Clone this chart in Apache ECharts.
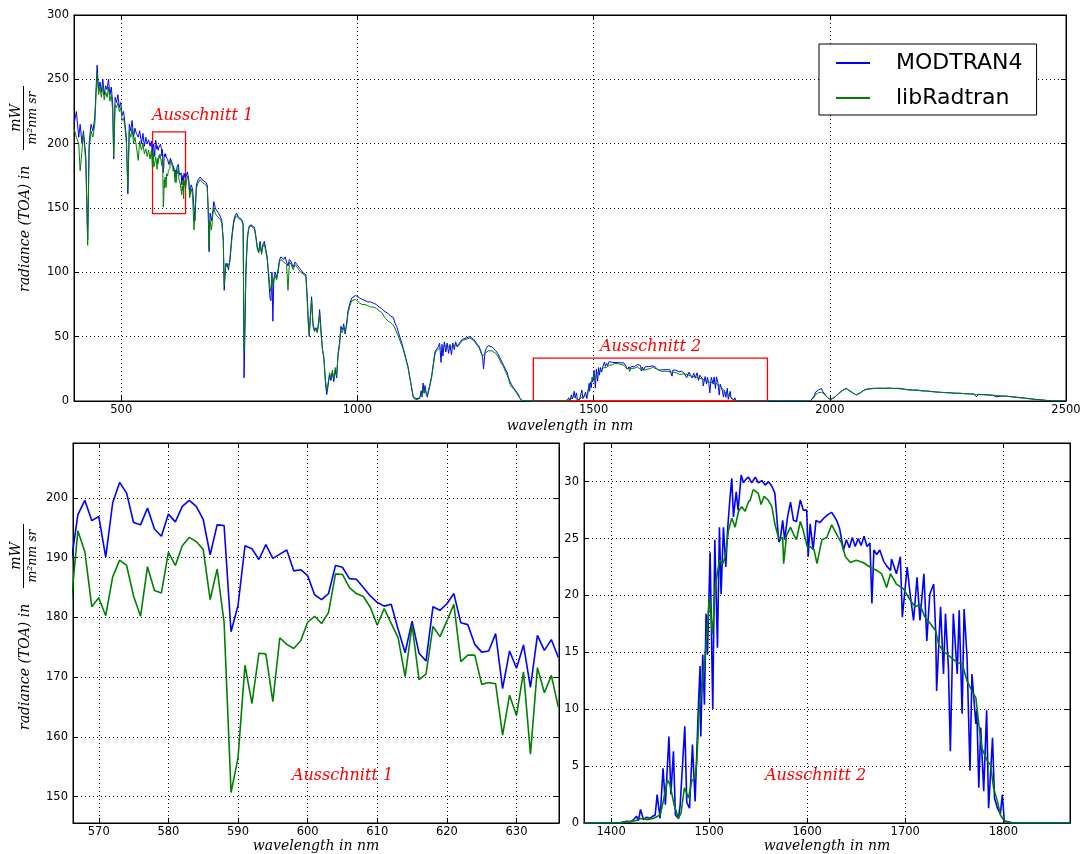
<!DOCTYPE html>
<html><head><meta charset="utf-8">
<script src="https://cdn.jsdelivr.net/npm/echarts@6/dist/echarts.min.js"></script>
<style>html,body{margin:0;padding:0;background:#fff}#c{width:1090px;height:854px}</style>
</head><body><div id="c"></div><script>
// ---------- full spectrum (outside the two cut-outs) ----------
const topWl = [
400,405,410,413,417,420,425,429,432,436,
440,444,447,449,452,455,458,461,464,467,
470,473,476,479,482,484,487,490,493,496,
499,502,505,508,511,514,517,520,523,526,
529,532,536,539,543,546,549,552,555,558,
561,564,640,643,645,648,651,654,656,659,
663,667,671,675,679,682,684,686,688,691,
694,696,699,702,706,710,713,716,718,721,
724,727,730,734,738,741,744,748,752,755,
758,760,762,764,767,770,774,778,782,785,
788,791,794,797,800,803,806,809,812,815,
817,819,821,823,826,829,832,835,838,841,
844,847,850,853,856,860,864,868,872,876,
880,884,888,891,894,896,898,900,903,906,
909,912,915,918,920,923,926,929,932,935,
938,941,944,947,950,953,956,959,962,965,
968,971,974,977,980,984,988,992,996,1000,
1005,1010,1016,1022,1028,1034,1040,1046,1051,1056,
1060,1065,1070,1076,1080,1083,1087,1093,1097,1100,
1104,1107,1110,1113,1116,1118,1121,1124,1128,1132,
1135,1137,1139,1141,1143,1146,1148,1150,1153,1157,
1161,1164,1167,1171,1174,1177,1179,1181,1184,1187,
1190,1193,1196,1199,1202,1205,1208,1211,1214,1218,
1222,1226,1230,1234,1238,1242,1246,1250,1254,1258,
1262,1265,1267,1270,1273,1277,1281,1285,1289,1293,
1297,1301,1305,1309,1313,1317,1320,1323,1326,1329,
1332,1335,1338,1341,1344,1347,1350,1360,1368,1870,
1900,1940,1955,1960,1964,1967,1970,1973,1976,1979,
1982,1985,1988,1991,1994,1997,2000,2003,2007,2010,
2014,2018,2022,2026,2030,2035,2040,2045,2050,2056,
2060,2065,2070,2077,2085,2095,2105,2115,2125,2135,
2145,2155,2165,2175,2185,2195,2205,2215,2225,2235,
2245,2255,2265,2275,2285,2295,2305,2310,2315,2325,
2335,2345,2352,2355,2365,2375,2385,2395,2405,2415,
2425,2435,2445,2455,2465,2475,2500];
const topModtran = [
215,225,205,215,200,210,190,125,200,215,
210,220,245,261,242,248,240,250,238,245,
242,250,238,244,230,188,236,232,238,228,
232,222,225,215,205,161,215,210,218,205,
212,208,205,210,200,208,198,205,200,203,
198,202,178,172,160,168,165,150,140,168,
172,174,172,171,170,168,150,116,146,140,
148,155,150,148,146,143,140,125,86,105,
107,102,110,128,140,144,146,143,144,141,
138,18,55,100,125,135,137,136,135,128,
120,116,124,115,122,124,118,112,96,80,
78,100,62,95,100,96,102,110,112,113,
110,112,108,105,110,108,104,108,106,104,
102,100,100,98,80,62,50,65,81,60,
55,57,54,62,71,55,40,33,15,5,
12,20,16,22,15,24,18,37,45,58,
55,60,52,60,70,76,80,81,82,81,
80,79,78,77,77,76,75,73,72,70,
69,68,66,65,60,58,53,46,41,37,
31,27,20,14,7,3,1.5,2,1,2,
8,4,14,6,12,5,3,8,12,19,
30,38,40,42,45,30,44,35,46,38,
45,37,44,36,45,40,46,42,44,46,
48,48,49,50,50,49,48,46,44,42,
38,34,25,38,41,43,44,42,41,39,
37,34,31,28,25,22,18,15,13,11,
12,8,9,5,2,0.5,0,0,0,0,
0,0,0,0.5,2,4,7,6,8.5,7,
9.8,7.5,6,4.5,3,2,1.5,1.3,2,3,
4,5.5,7,8,8.8,9.9,8.5,7.3,6,4.7,
5.5,6.5,8,9.1,9.6,9.9,10,9.9,10.1,9.8,
9.9,9.4,8.8,8.5,8.6,7.9,7.8,7.4,7.0,6.8,
6.5,6.4,6.0,6.1,5.7,5.6,5.4,3.4,5.2,5.0,
4.8,4.5,3.2,4.4,3.9,3.8,3.3,3.0,2.6,2.2,
1.8,1.3,1.0,0.6,0.2,0,0];
const topLibradtran = [
212,205,200,179,195,208,185,121,195,210,
205,215,240,255,238,244,236,245,234,240,
236,244,233,238,225,190,230,228,232,225,
228,218,220,212,200,165,210,205,212,200,
205,198,187,202,195,200,192,196,190,195,
188,195,175,170,158,165,160,133,145,165,
170,172,170,169,168,166,150,118,140,133,
145,150,146,144,143,141,138,125,90,107,
104,104,108,125,138,142,144,142,143,140,
137,40,68,105,128,134,136,135,134,127,
118,115,122,114,120,122,116,110,100,88,
85,98,90,93,97,94,100,108,110,111,
108,109,106,86,108,106,102,106,104,102,
100,99,98,96,75,60,52,62,78,58,
54,56,53,60,68,52,40,34,18,8,
14,22,18,24,17,26,20,35,43,55,
53,57,54,58,68,74,78,79,79,78,
76,75,75,74,73,73,72,70,69,66,
64,62,61,59,56,55,50,44,40,36,
30,26,20,14,8,4,1.5,1.2,1,1.5,
5,3,10,7,9,6,4,6,11,18,
28,36,39,40,41,40,41,42,43,42,
43,42,42,41,42,41,44,43,43,45,
47,47,48,49,49,48,47,45,43,41,
37,35,34,37,38,39,40,39,38,37,
35,32,29,27,23,20,17,13,11,10,
9,7,6,4,2,0.5,0,0,0,0,
0,0,0,0.5,1.5,3,5,6,6.5,6.5,
6.8,6.5,5.5,4.5,3,2,1.5,1.3,2,3,
4,5.5,7,8,8.7,9.5,8.2,7.1,6,4.7,
5.3,6.3,7.8,9,9.4,9.7,9.8,9.7,9.8,9.7,
9.6,9.2,8.7,8.4,8.2,7.9,7.7,7.3,7.0,6.7,
6.5,6.3,6.1,5.9,5.7,5.5,5.3,5.1,5.0,4.9,
4.6,4.5,4.3,4.2,3.9,3.6,3.2,2.8,2.4,2.0,
1.6,1.2,0.9,0.6,0.2,0,0];

// ---------- Ausschnitt 1 (566-636 nm) ----------
const cut1Wl = [566,567,568,569,570,571,572,573,574,575,576,577,578,579,580,581,582,583,584,585,
586,587,588,589,590,591,592,593,594,595,596,597,598,599,600,601,602,603,604,605,
606,607,608,609,610,611,612,613,614,615,616,617,618,619,620,621,622,623,624,625,
626,627,628,629,630,631,632,633,634,635,636];
const cut1Modtran = [189,197.2,199.6,196.2,196.9,190.1,199.2,202.6,200.8,195.9,195.5,198.3,194.8,193.6,197.3,196.0,198.6,199.6,198.6,196.4,
190.5,195.5,195.4,177.6,182.0,192.0,191.5,189.7,192.2,189.9,190.6,191.3,187.8,188.0,187.0,183.8,183.0,184.0,188.7,188.4,
186.5,186.4,185.0,183.6,182.5,181.9,182.2,178.0,174.1,179.4,174.0,172.7,181.8,181.2,182.3,184.0,179.1,178.8,175.5,174.2,
174.4,177.3,168.1,174.4,171.5,175.4,168.3,177.0,174.5,176.3,173.3];
const cut1Libradtran = [182,194.5,191.0,181.8,183.3,180.3,186.8,189.6,188.7,183.6,180.2,188.5,184.5,184.1,190.9,188.7,192.0,193.4,192.7,191.4,
183.0,188.1,179.2,150.7,156.5,172.0,165.6,174.0,173.9,165.9,176.6,175.5,174.8,176.1,179.2,180.2,179.0,180.8,187.3,187.2,
185.0,184.0,183.5,181.7,178.7,181.5,179.0,176.6,170.1,178.7,169.6,170.5,178.5,176.8,179.4,182.2,172.6,173.7,173.7,168.8,
169.1,168.9,160.3,167.0,163.6,170.9,157.1,171.6,167.4,170.3,165.0];

// ---------- Ausschnitt 2 (1372-1868 nm) ----------
const cut2ModtranWl = [1372,1390,1405,1410,1416,1420,1423,1426,1428,1430,
1433,1436,1440,1442.5,1445,1447,1450,1453,1455.4,1459,
1461,1463.6,1465.6,1468.7,1470.4,1475.2,1477.2,1480,1483,1485.7,
1489.1,1490.8,1491.5,1493.5,1495.2,1496.9,1498.3,1501,1503.7,1505.8,
1508.5,1510.5,1512.2,1514.6,1517,1519,1521.4,1523.1,1524.8,1527.6,
1529.6,1532.7,1535,1537.4,1540.1,1543.5,1547,1550.3,1553.7,1557.1,
1560.5,1564,1567,1569,1571,1572.5,1575,1577,1580,1583,
1586,1589,1593,1596,1599.5,1601,1603,1606,1609,1613,
1617,1621,1625,1628,1630,1633,1637,1640,1643,1646,
1649,1652,1655,1658,1661,1664,1666,1668,1671,1674,
1678,1681,1685,1686,1691,1695,1697,1702,1705,1708.5,
1712,1715,1719,1722,1725,1729,1731,1732,1736,1739,
1741,1744,1746,1749,1753,1755,1758,1760,1763,1766,
1768,1772,1773,1775,1777,1780,1783,1785,1789,1791,
1794,1797,1799,1801,1805,1810,1868];
const cut2Modtran = [0,0,0,0.05,0.15,0.1,0.3,0.6,0.2,1.2,
0.3,0.5,0.4,0.6,0.7,2.5,0.4,4.8,1.6,7.6,
2.5,6.3,0.7,0.4,1.5,8.5,1.8,1.3,6.9,1.9,
10.4,13.8,7.6,14.8,10.4,18.4,14.8,23.8,10,24.9,
15.4,26,20.1,26,22.5,26,28.7,30.3,26.9,29.1,
27.5,30.6,29.9,30.2,30.4,29.9,30.4,29.9,30.1,29.7,
30.0,29.6,29.0,26.9,24.7,24.9,26.6,24.9,26.9,28.2,
26.6,26.5,28.4,27.5,27.5,23.4,26.3,24,26.6,26.4,
26.8,27.1,27.3,26.9,26.6,25.9,24,24.9,24.2,25.1,
24.3,25,24.4,25.2,24.3,24.6,19.3,24,23.6,24.0,
23,22.6,22.2,23.2,21.9,23.4,18.1,22.5,20.1,17.8,
21.6,17.8,21.9,16,20.1,21,16.9,11.6,19,13.1,
18.4,13.7,6.3,18.4,13.1,18.7,9.6,18.8,14.6,4.6,
13.1,8.7,9.9,3.1,8.4,2.8,9.9,1.3,7.5,2.2,
1.3,0.8,2.5,0.15,0.1,0,0];
const cut2LibradtranWl = [1372,1410,1416,1425,1430,1436,1443,1450,1453,1457.5,
1460,1464.3,1468.7,1471.4,1474.8,1479,1482.3,1485.7,1487.4,1490,
1493.5,1497,1500.3,1503.4,1506.1,1510.5,1514,1516.3,1519.7,1523.1,
1526.5,1530,1533.3,1536.7,1540,1542,1545,1550,1553,1556,
1560,1564,1567,1570,1572,1575,1576,1579,1583,1586,
1589,1593,1596,1600,1603,1607,1610,1615,1620,1625,
1630,1635,1639,1644,1650,1657,1664,1671,1676,1681,
1685,1691,1698,1705,1710,1715,1720,1725,1731,1734,
1739,1746,1753,1758,1763,1768,1772,1775,1778,1784,
1787,1790,1794,1797,1801,1808,1868];
const cut2Libradtran = [0,0,0.1,0.2,0.4,0.3,0.4,0.7,1.8,3.8,
3.4,1.6,0.4,0.9,3.1,2.2,3.7,4.0,5.4,10.1,
12.5,15.7,19.9,16.6,20.7,23.1,22.8,23.4,25.7,26.8,
26,27.4,27.8,27.4,28.2,28.4,29.3,29.0,28.0,28.7,
28.4,27.8,26.3,25.3,24.9,25.1,22.8,25.3,26,25.4,
24.9,26.5,25.7,24.3,24.3,24,22.8,24.9,25.1,26.2,
25.4,24.6,23.4,22.9,23.1,22.9,22.5,22.2,21.9,20.7,
21.9,21,20.6,19.6,19,19.2,18.1,17.6,16.9,15.7,
15.1,14.6,14.1,14,12.5,11.6,11,8.7,6.6,5.4,
5.1,3.1,1.9,0.7,0.2,0,0];

// ---------- axes ----------
const topXTicks = [500,1000,1500,2000,2500];
const topYTicks = [0,50,100,150,200,250,300];
const cut1XTicks = [570,580,590,600,610,620,630];
const cut1YTicks = [150,160,170,180,190,200];
const cut2XTicks = [1400,1500,1600,1700,1800];
const cut2YTicks = [0,5,10,15,20,25,30];
const seriesNames = ['MODTRAN4','libRadtran'];
const xName = 'wavelength in nm';

function pairs(w, v){ return w.map((x,i)=>[x, v[i]]); }
const byX = (a,b)=>a[0]-b[0];
const topMData = pairs(topWl, topModtran).concat(pairs(cut1Wl, cut1Modtran), pairs(cut2ModtranWl, cut2Modtran)).sort(byX);
const topLData = pairs(topWl, topLibradtran).concat(pairs(cut1Wl, cut1Libradtran), pairs(cut2LibradtranWl, cut2Libradtran)).sort(byX);

const plain = v => String(v);
const tickFont = {fontFamily:'DejaVu Sans', fontSize:11.5, color:'#000'};
const nameFont = {fontFamily:'DejaVu Serif', fontStyle:'italic', fontSize:14, color:'#000'};
const dotted = {show:true, lineStyle:{color:'#000', type:[1,3], width:1}};

function xAx(gi, min, max, ticks, bottom, gap){
  return {type:'value', gridIndex:gi, min:min, max:max, position: bottom?'bottom':'top',
    name: bottom ? xName : '', nameLocation:'middle', nameGap:gap, nameTextStyle:nameFont,
    axisLine:{show:true, onZero:false, lineStyle:{color:'#000', width:1}},
    axisTick:{show:true, inside:true, length:5, customValues:ticks, lineStyle:{color:'#000'}},
    axisLabel: bottom ? Object.assign({show:true, customValues:ticks, margin:3, formatter:plain}, tickFont) : {show:false},
    splitLine: bottom ? dotted : {show:false}};
}
function yAx(gi, min, max, ticks, left){
  return {type:'value', gridIndex:gi, min:min, max:max, position: left?'left':'right',
    axisLine:{show:true, onZero:false, lineStyle:{color:'#000', width:1}},
    axisTick:{show:true, inside:true, length:5, customValues:ticks, lineStyle:{color:'#000'}},
    axisLabel: left ? Object.assign({show:true, customValues:ticks, margin:5, formatter:plain}, tickFont) : {show:false},
    splitLine: left ? dotted : {show:false}};
}
function line(name, data, xi, color, w, extra){
  return Object.assign({type:'line', name:name, data:data, xAxisIndex:xi, yAxisIndex:xi,
    showSymbol:false, symbol:'none', sampling:null, animation:false,
    lineStyle:{color:color, width:w}, itemStyle:{color:color}}, extra||{});
}
function serifItalic(size, extra){
  return Object.assign({fontFamily:'DejaVu Serif', fontStyle:'italic', fontSize:size, fill:'#000'}, extra);
}
function yLabel(gx, gy){
  const mid = {verticalAlign:'middle', textVerticalAlign:'middle'};
  return {type:'group', x:gx, y:gy, rotation:Math.PI/2, silent:true, children:[
    {type:'text', x:0, y:0, style:serifItalic(14, Object.assign({text:'radiance (TOA) in', align:'left', textAlign:'left'}, mid))},
    {type:'text', x:174, y:-9, style:serifItalic(14, Object.assign({text:'mW', align:'center', textAlign:'center'}, mid))},
    {type:'line', shape:{x1:142, y1:-1.5, x2:206, y2:-1.5}, style:{stroke:'#000', lineWidth:1}},
    {type:'text', x:174, y:7.5, style:serifItalic(12.5, Object.assign({text:'m\u00b2nm sr', align:'center', textAlign:'center'}, mid))}
  ]};
}
function note(txt, x, y){
  return {type:'text', x:x, y:y, silent:true, style:serifItalic(16, {text:txt, fill:'#ff0000', align:'left', verticalAlign:'middle', textAlign:'left', textVerticalAlign:'middle'})};
}

const chart = echarts.init(document.getElementById('c'), null, {renderer:'canvas'});
chart.setOption({
  animation:false,
  backgroundColor:'#fff',
  grid:[
    {left:74, top:15, width:992, height:386, show:true, borderColor:'#000', borderWidth:1, backgroundColor:'transparent', containLabel:false, outerBoundsMode:'none'},
    {left:73, top:443, width:486, height:380, show:true, borderColor:'#000', borderWidth:1, backgroundColor:'transparent', containLabel:false, outerBoundsMode:'none'},
    {left:584, top:443, width:486, height:380, show:true, borderColor:'#000', borderWidth:1, backgroundColor:'transparent', containLabel:false, outerBoundsMode:'none'}
  ],
  xAxis:[
    xAx(0, 400, 2500, topXTicks, true, 18), xAx(0, 400, 2500, topXTicks, false, 0),
    xAx(1, 566.3, 636.1, cut1XTicks, true, 15), xAx(1, 566.3, 636.1, cut1XTicks, false, 0),
    xAx(2, 1372.4, 1868, cut2XTicks, true, 15), xAx(2, 1372.4, 1868, cut2XTicks, false, 0)
  ],
  yAxis:[
    yAx(0, 0, 300, topYTicks, true), yAx(0, 0, 300, topYTicks, false),
    yAx(1, 145.6, 209.2, cut1YTicks, true), yAx(1, 145.6, 209.2, cut1YTicks, false),
    yAx(2, 0, 33.4, cut2YTicks, true), yAx(2, 0, 33.4, cut2YTicks, false)
  ],
  legend:{
    show:true, data:seriesNames, orient:'vertical', left:819, top:44,
    padding:[6,14,4,17], itemGap:9, itemWidth:34, itemHeight:2, icon:'rect',
    borderColor:'#000', borderWidth:1, borderRadius:0, backgroundColor:'#fff', selectedMode:false,
    textStyle:{fontFamily:'DejaVu Sans', fontSize:22, color:'#000', lineHeight:26, padding:[0,0,0,21]}
  },
  series:[
    line(seriesNames[0], topMData, 0, '#0000ff', 1, {markArea:{silent:true,
      itemStyle:{color:'rgba(0,0,0,0)', borderColor:'#ff0000', borderWidth:1.3},
      data:[[{coord:[566.3,145.6]},{coord:[636.1,209.2]}],[{coord:[1372.4,0]},{coord:[1868,33.4]}]]}}),
    line(seriesNames[1], topLData, 0, '#008000', 1),
    line(seriesNames[0], pairs(cut1Wl, cut1Modtran), 2, '#0000ff', 1.6),
    line(seriesNames[1], pairs(cut1Wl, cut1Libradtran), 2, '#008000', 1.6),
    line(seriesNames[0], pairs(cut2ModtranWl, cut2Modtran), 4, '#0000ff', 1.6),
    line(seriesNames[1], pairs(cut2LibradtranWl, cut2Libradtran), 4, '#008000', 1.6)
  ],
  graphic:[
    yLabel(25, 292), yLabel(25, 730),
    note('Ausschnitt 1', 152, 116), note('Ausschnitt 2', 600, 347),
    note('Ausschnitt 1', 292, 776), note('Ausschnitt 2', 765, 776)
  ]
});
</script></body></html>
